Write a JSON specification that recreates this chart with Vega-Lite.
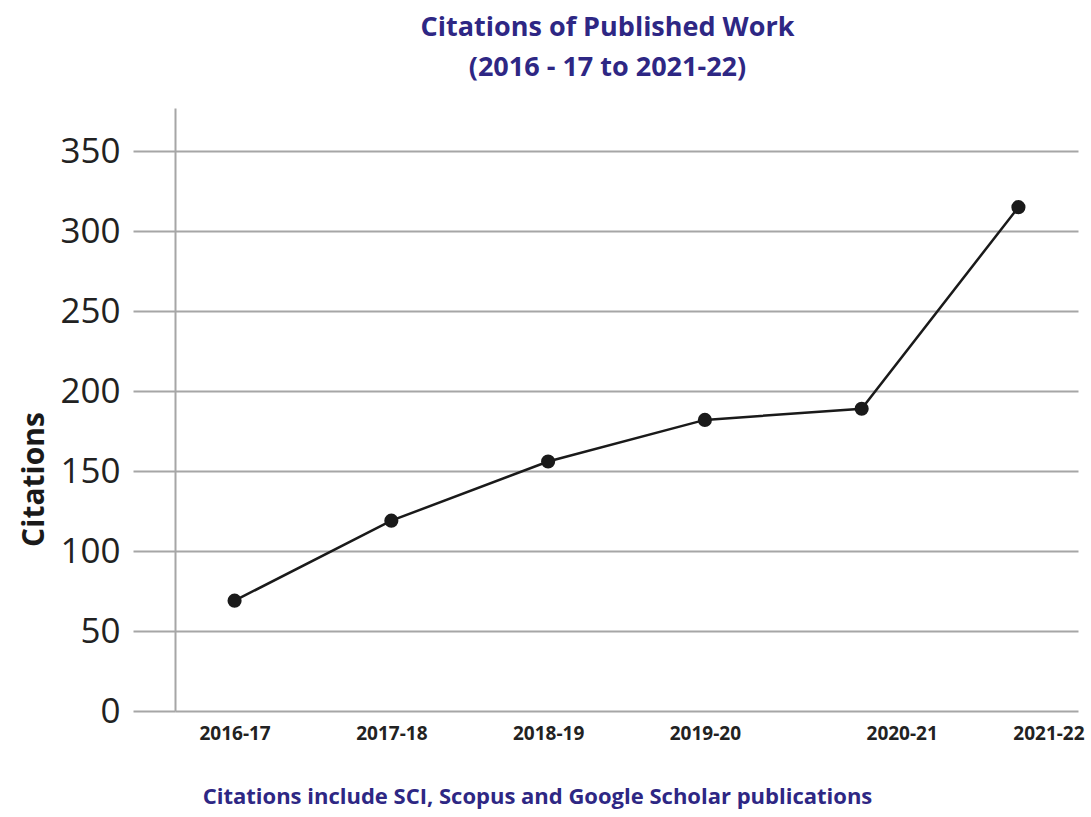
{
  "$schema": "https://vega.github.io/schema/vega-lite/v6.json",
  "autosize": "none",
  "width": 903,
  "height": 603,
  "padding": {"left": 175, "top": 108, "right": 13, "bottom": 106},
  "background": "white",
  "title": {
    "text": ["Citations of Published Work", "(2016 - 17 to 2021-22)"],
    "font": "Open Sans",
    "fontSize": 27,
    "fontWeight": "bold",
    "color": "#2e2784",
    "lineHeight": 40,
    "anchor": "middle",
    "frame": "group",
    "offset": 26,
    "dx": -19
  },
  "data": {
    "values": [
      {"year": "2016-17", "citations": 69},
      {"year": "2017-18", "citations": 119},
      {"year": "2018-19", "citations": 156},
      {"year": "2019-20", "citations": 182},
      {"year": "2020-21", "citations": 189},
      {"year": "2021-22", "citations": 315}
    ]
  },
  "encoding": {
    "x": {
      "field": "year",
      "type": "ordinal",
      "sort": null,
      "scale": {"type": "point", "padding": 0.38},
      "axis": {
        "title": "Citations include SCI, Scopus and Google Scholar publications",
        "titleFont": "Open Sans",
        "titleFontSize": 22,
        "titleFontWeight": "bold",
        "titleColor": "#2e2784",
        "titlePadding": 43,
        "titleX": 362,
        "labelAngle": 0,
        "labelFont": "Open Sans",
        "labelFontSize": 19,
        "labelFontWeight": "bold",
        "labelColor": "#222222",
        "labelPadding": 13,
        "labelOffset": {"expr": "datum.value == '2021-22' ? 30 : (datum.value == '2020-21' ? 40 : 0)"},
        "domain": false,
        "ticks": false,
        "grid": false
      }
    },
    "y": {
      "field": "citations",
      "type": "quantitative",
      "scale": {"domain": [0, 377], "nice": false},
      "axis": {
        "title": "Citations",
        "titleFont": "Open Sans",
        "titleFontSize": 30,
        "titleFontWeight": "bold",
        "titleColor": "#1a1a1a",
        "titlePadding": 10,
        "titleY": 371,
        "values": [0, 50, 100, 150, 200, 250, 300, 350],
        "labelFont": "Open Sans",
        "labelFontSize": 35,
        "labelFontWeight": "normal",
        "labelColor": "#222222",
        "labelPadding": 13,
        "tickSize": 42,
        "tickColor": "#a6a6a6",
        "tickWidth": 2,
        "domain": true,
        "domainColor": "#a6a6a6",
        "domainWidth": 2,
        "grid": true,
        "gridColor": "#a6a6a6",
        "gridWidth": 2
      }
    }
  },
  "layer": [
    {"mark": {"type": "line", "color": "#1a1a1a", "strokeWidth": 2.5}},
    {"mark": {"type": "point", "filled": true, "color": "#1a1a1a", "opacity": 1, "size": 200}}
  ],
  "config": {"view": {"stroke": null}}
}
